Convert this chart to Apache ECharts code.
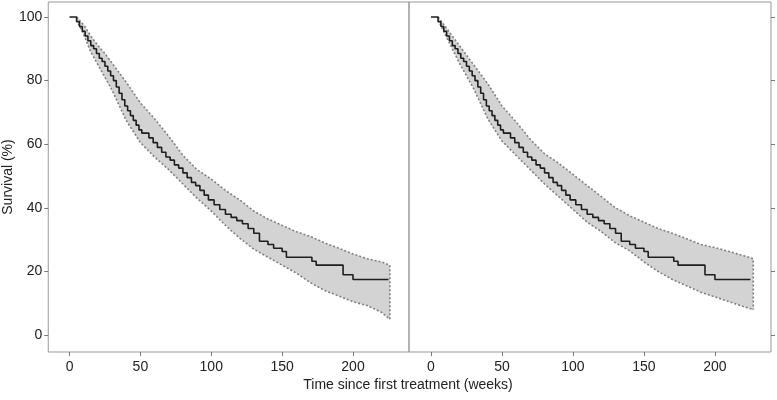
<!DOCTYPE html>
<html><head><meta charset="utf-8">
<script src="https://cdn.jsdelivr.net/npm/echarts@6/dist/echarts.min.js"></script>
<style>html,body{margin:0;padding:0;background:#fff}#c{width:777px;height:400px}</style>
</head><body><div id="c"></div>
<script>
const xTicks = [0, 50, 100, 150, 200];
const yTicks = [0, 20, 40, 60, 80, 100];
const xTitle = 'Time since first treatment (weeks)';
const yTitle = 'Survival (%)';

// Kaplan-Meier estimate (same curve in both panels)
const kmTimes = [0, 5, 7, 9, 11, 13, 15, 17, 19, 21, 23, 25, 27, 29, 31, 33, 35, 37, 39, 41, 43, 45, 47, 49, 51, 56, 59, 62, 65, 68, 71, 74, 77, 80, 83, 86, 89, 92, 95, 98, 102, 106, 110, 114, 118, 122, 126, 130, 134, 140, 144, 150, 153, 171, 174, 193, 200, 225];
const kmSurv  = [100, 98.5, 97, 95.5, 94, 92.5, 91, 90, 88.5, 87, 86, 84.5, 83, 81.5, 80, 78, 76, 74, 72, 70.5, 69, 67.5, 66, 64.5, 63.5, 62, 60.5, 59, 57.5, 56, 55, 53.5, 52.5, 51, 49.5, 48, 47, 45.5, 44, 42.5, 41, 39.5, 38, 37, 36, 35, 33.5, 32, 29.5, 28.5, 27.3, 26.3, 24.5, 23.2, 22, 19, 17.5, 17.5];

// Confidence bands
const bandTimesL = [5, 10, 15, 20, 25, 30, 40, 50, 60, 70, 80, 90, 100, 110, 120, 130, 140, 150, 160, 170, 180, 190, 200, 210, 220, 226];
const upperL = [100, 97.5, 94, 91, 88.5, 85.5, 79.5, 73, 68, 62.5, 56.5, 52, 49, 45.5, 42.5, 39, 36.5, 34.5, 32.5, 31, 29, 27.3, 25.5, 24, 23, 22];
const lowerL = [99, 94.5, 89, 85, 81, 77, 67.5, 60.5, 56, 52, 47.5, 43, 39, 34.5, 30.5, 27, 24.5, 22, 19.5, 16.5, 14, 12.3, 10.5, 9.3, 7.2, 5];

const bandTimesR = [5, 10, 15, 20, 25, 30, 40, 50, 60, 70, 80, 90, 100, 110, 120, 130, 140, 150, 160, 170, 180, 190, 200, 210, 220, 227];
const upperR = [100, 97, 94, 91, 88, 85, 79, 72, 67, 61.5, 57, 54, 50.5, 47, 43.5, 40, 37.5, 35.5, 33.5, 32, 30.3, 28.5, 27.5, 26.3, 25, 24];
const lowerR = [99, 94.5, 90, 85.5, 81.5, 77.5, 68, 61, 56.5, 52, 47.5, 43.5, 39.5, 35.5, 32.5, 29, 26.5, 23, 20, 17.5, 15.5, 13.5, 12, 10.5, 9, 8];

const FONT = "'Liberation Sans',Arial,sans-serif";
const TXT = '#222';

function zip(a, b) { return a.map((v, i) => [v, b[i]]); }

function panelSeries(idx, times, up, lo) {
  const upOutline = zip(times, up).concat([[times[times.length - 1], lo[lo.length - 1]]]);
  return [
    { type: 'custom', xAxisIndex: idx, yAxisIndex: idx, silent: true,
      data: times.map((t, i) => [t, up[i], lo[i]]),
      encode: { x: 0, y: [1, 2] },
      renderItem: function (params, api) {
        if (params.dataIndex !== 0) return null;
        const pts = [];
        for (let i = 0; i < times.length; i++) pts.push(api.coord([times[i], up[i]]));
        for (let i = times.length - 1; i >= 0; i--) pts.push(api.coord([times[i], lo[i]]));
        return { type: 'polygon', shape: { points: pts }, style: { fill: '#d3d3d3', stroke: null } };
      } },
    { type: 'line', xAxisIndex: idx, yAxisIndex: idx, data: upOutline, symbol: 'none', silent: true,
      lineStyle: { color: '#808080', width: 1.6, type: [2, 2] } },
    { type: 'line', xAxisIndex: idx, yAxisIndex: idx, data: zip(times, lo), symbol: 'none', silent: true,
      lineStyle: { color: '#808080', width: 1.6, type: [2, 2] } },
    { type: 'line', xAxisIndex: idx, yAxisIndex: idx, data: zip(kmTimes, kmSurv), step: 'end',
      symbol: 'none', silent: true, lineStyle: { color: '#1e1e1e', width: 1.6 } }
  ];
}

function xAxisDef(idx, min, max) {
  return {
    type: 'value', gridIndex: idx, min: min, max: max,
    axisLine: { show: false, onZero: false },
    splitLine: { show: false },
    axisTick: { show: true, length: 4, inside: false, customValues: xTicks, lineStyle: { color: '#777' } },
    axisLabel: { show: true, customValues: xTicks, color: TXT, fontSize: 14, fontFamily: FONT, margin: 8 }
  };
}

const chart = echarts.init(document.getElementById('c'), null, { renderer: 'canvas' });
chart.setOption({
  animation: false,
  backgroundColor: '#fff',
  grid: [
    { left: 48, top: 2, width: 361, height: 350, show: true, borderColor: '#999', borderWidth: 1, backgroundColor: 'transparent' },
    { left: 409, top: 2, width: 362, height: 350, show: true, borderColor: '#999', borderWidth: 1, backgroundColor: 'transparent' }
  ],
  xAxis: [xAxisDef(0, -15, 239.5), xAxisDef(1, -15.5, 239.5)],
  yAxis: [
    { type: 'value', gridIndex: 0, min: -5.3, max: 104.7, position: 'left',
      axisLine: { show: false, onZero: false }, splitLine: { show: false },
      axisTick: { show: true, length: 4, customValues: yTicks, lineStyle: { color: '#777' } },
      axisLabel: { customValues: yTicks, color: TXT, fontSize: 14, fontFamily: FONT, margin: 6 },
      name: yTitle, nameLocation: 'middle', nameRotate: 90, nameGap: 32,
      nameTextStyle: { color: TXT, fontSize: 14, fontFamily: FONT } },
    { type: 'value', gridIndex: 1, min: -5.3, max: 104.7, position: 'right',
      axisLine: { show: false, onZero: false }, splitLine: { show: false },
      axisTick: { show: true, length: 4, customValues: yTicks, lineStyle: { color: '#777' } },
      axisLabel: { show: false } }
  ],
  graphic: [
    { type: 'text', x: 408, y: 385, style: { text: xTitle, fill: TXT, fontSize: 14, fontFamily: FONT, align: 'center', verticalAlign: 'middle' } }
  ],
  series: panelSeries(0, bandTimesL, upperL, lowerL).concat(panelSeries(1, bandTimesR, upperR, lowerR))
});
</script>
</body></html>
